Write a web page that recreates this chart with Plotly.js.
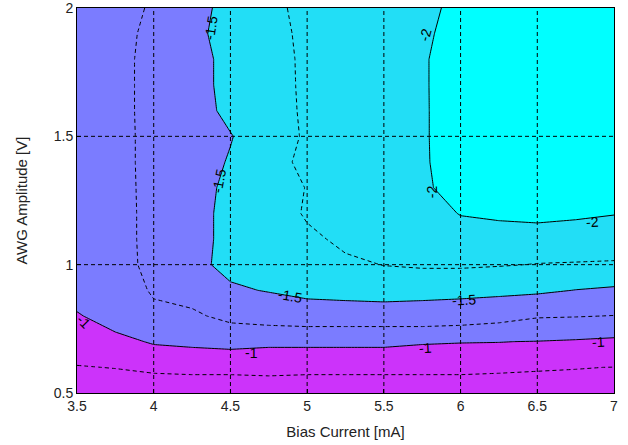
<!DOCTYPE html>
<html>
<head>
<meta charset="utf-8">
<script src="https://cdn.plot.ly/plotly-3.0.1.min.js"></script>
<style>html,body{margin:0;padding:0;background:#fff;}#chart{width:628px;height:445px;}</style>
</head>
<body>
<div id="chart"></div>
<script>
// Bias current axis (mA) and AWG amplitude axis (V)
const biasCurrent = [3.5, 3.75, 4.0, 4.25, 4.5, 4.75, 5.0, 5.25, 5.5, 5.75, 6.0, 6.25, 6.5, 6.75, 7.0];
const awgAmplitude = [0.5, 0.6, 0.7, 0.8, 0.9, 1.0, 1.1, 1.2, 1.3, 1.4, 1.5, 1.6, 1.7, 1.8, 1.9, 2.0];

// Filled / solid contour field: one column per bias current, values from 0.5 V to 2.0 V
const solidCols = [
  [-0.80,-0.86,-0.93,-0.99,-1.05,-1.10,-1.15,-1.18,-1.20,-1.22,-1.24,-1.25,-1.26,-1.27,-1.28,-1.28],
  [-0.82,-0.90,-0.97,-1.05,-1.12,-1.18,-1.22,-1.25,-1.27,-1.28,-1.29,-1.30,-1.30,-1.31,-1.31,-1.32],
  [-0.83,-0.92,-1.01,-1.10,-1.18,-1.24,-1.28,-1.30,-1.32,-1.33,-1.34,-1.35,-1.35,-1.36,-1.36,-1.36],
  [-0.84,-0.93,-1.02,-1.12,-1.30,-1.40,-1.41,-1.41,-1.41,-1.41,-1.41,-1.41,-1.41,-1.41,-1.41,-1.41],
  [-0.84,-0.93,-1.03,-1.20,-1.45,-1.60,-1.57,-1.57,-1.55,-1.515,-1.49,-1.55,-1.57,-1.57,-1.63,-1.58],
  [-0.85,-0.93,-1.02,-1.25,-1.52,-1.65,-1.68,-1.70,-1.70,-1.68,-1.62,-1.68,-1.70,-1.72,-1.73,-1.74],
  [-0.85,-0.93,-1.02,-1.30,-1.60,-1.72,-1.76,-1.80,-1.82,-1.82,-1.82,-1.83,-1.83,-1.84,-1.84,-1.84],
  [-0.85,-0.93,-1.02,-1.32,-1.62,-1.76,-1.82,-1.86,-1.88,-1.88,-1.89,-1.89,-1.90,-1.90,-1.90,-1.90],
  [-0.85,-0.93,-1.02,-1.33,-1.64,-1.78,-1.85,-1.89,-1.90,-1.91,-1.91,-1.91,-1.91,-1.91,-1.90,-1.89],
  [-0.84,-0.92,-1.01,-1.32,-1.62,-1.78,-1.86,-1.90,-1.95,-1.955,-1.955,-1.955,-1.955,-1.955,-1.93,-1.90],
  [-0.83,-0.91,-1.005,-1.30,-1.60,-1.78,-1.90,-2.01,-2.12,-2.18,-2.20,-2.20,-2.21,-2.21,-2.15,-2.10],
  [-0.83,-0.90,-1.003,-1.28,-1.57,-1.76,-1.90,-2.04,-2.15,-2.22,-2.25,-2.26,-2.26,-2.26,-2.26,-2.26],
  [-0.82,-0.90,-0.995,-1.26,-1.54,-1.75,-1.90,-2.06,-2.18,-2.25,-2.28,-2.29,-2.30,-2.30,-2.30,-2.30],
  [-0.81,-0.89,-0.98,-1.24,-1.495,-1.72,-1.88,-2.04,-2.16,-2.24,-2.27,-2.28,-2.29,-2.29,-2.29,-2.29],
  [-0.80,-0.88,-0.96,-1.22,-1.47,-1.68,-1.86,-2.01,-2.14,-2.22,-2.25,-2.26,-2.27,-2.27,-2.27,-2.27]
];

// Dashed contour field (second data set), same layout
const dashedCols = [
  [-0.93,-0.995,-1.06,-1.12,-1.17,-1.20,-1.22,-1.24,-1.25,-1.26,-1.27,-1.28,-1.29,-1.30,-1.30,-1.30],
  [-0.94,-1.003,-1.08,-1.16,-1.24,-1.33,-1.35,-1.35,-1.36,-1.37,-1.37,-1.38,-1.38,-1.38,-1.38,-1.37],
  [-0.95,-1.015,-1.20,-1.40,-1.55,-1.62,-1.62,-1.62,-1.62,-1.62,-1.62,-1.62,-1.62,-1.62,-1.59,-1.54],
  [-0.95,-1.02,-1.25,-1.45,-1.62,-1.70,-1.72,-1.73,-1.74,-1.74,-1.74,-1.74,-1.74,-1.74,-1.73,-1.72],
  [-0.95,-1.02,-1.28,-1.58,-1.72,-1.78,-1.80,-1.81,-1.82,-1.82,-1.82,-1.82,-1.82,-1.82,-1.82,-1.81],
  [-0.95,-1.025,-1.29,-1.62,-1.76,-1.82,-1.84,-1.85,-1.86,-1.86,-1.86,-1.86,-1.86,-1.86,-1.86,-1.86],
  [-0.95,-1.02,-1.30,-1.64,-1.80,-1.88,-1.95,-2.03,-2.01,-2.09,-2.035,-2.05,-2.06,-2.065,-2.09,-2.15],
  [-0.95,-1.02,-1.30,-1.64,-1.85,-1.96,-2.05,-2.10,-2.12,-2.13,-2.13,-2.14,-2.14,-2.14,-2.14,-2.15],
  [-0.95,-1.02,-1.30,-1.64,-1.87,-2.005,-2.10,-2.15,-2.17,-2.18,-2.18,-2.18,-2.18,-2.18,-2.18,-2.18],
  [-0.95,-1.02,-1.30,-1.64,-1.88,-2.02,-2.12,-2.18,-2.20,-2.20,-2.20,-2.20,-2.20,-2.20,-2.20,-2.20],
  [-0.95,-1.02,-1.29,-1.62,-1.88,-2.02,-2.12,-2.18,-2.20,-2.20,-2.20,-2.20,-2.20,-2.20,-2.20,-2.20],
  [-0.95,-1.015,-1.28,-1.58,-1.86,-2.01,-2.11,-2.17,-2.19,-2.20,-2.20,-2.20,-2.20,-2.20,-2.20,-2.20],
  [-0.945,-1.01,-1.25,-1.52,-1.82,-1.995,-2.10,-2.16,-2.18,-2.19,-2.19,-2.19,-2.19,-2.19,-2.19,-2.19],
  [-0.94,-1.005,-1.24,-1.51,-1.80,-1.99,-2.09,-2.15,-2.17,-2.18,-2.18,-2.18,-2.18,-2.18,-2.18,-2.18],
  [-0.935,-0.998,-1.23,-1.495,-1.72,-1.985,-2.08,-2.14,-2.16,-2.17,-2.17,-2.17,-2.17,-2.17,-2.17,-2.17]
];

// Contour levels and band colours (below -2, -2..-1.5, -1.5..-1, above -1)
const levels = [-2, -1.5, -1];
const bandColors = ['#00ffff', '#22def6', '#7b7cff', '#cc33fa'];

// Tick labels
const xTicks = [3.5, 4, 4.5, 5, 5.5, 6, 6.5, 7];
const xTickText = ['3.5', '4', '4.5', '5', '5.5', '6', '6.5', '7'];
const yTicks = [0.5, 1, 1.5, 2];
const yTickText = ['0.5', '1', '1.5', '2'];

// Inline contour labels: text, x, y, angle
const labelText  = ['-1.5', '-1.5', '-2', '-2', '-2', '-1.5', '-1.5', '-1', '-1', '-1', '-1'];
const labelX     = [4.373, 4.426, 5.77, 5.815, 6.86, 4.89, 6.02, 4.64, 5.77, 6.90, 3.545];
const labelY     = [1.922, 1.326, 1.895, 1.283, 1.166, 0.878, 0.862, 0.656, 0.675, 0.700, 0.775];
const labelAngle = [-81, -79, -75, -90, -3, 10, -3, 0, -3, -3, 45];

function transpose(cols) {
  const rows = [];
  for (let j = 0; j < cols[0].length; j++) {
    rows.push(cols.map(c => c[j]));
  }
  return rows;
}

const step = 0.5 / 3;
const colorscale = [
  [0, bandColors[0]], [step, bandColors[0]],
  [step, bandColors[1]], [3 * step, bandColors[1]],
  [3 * step, bandColors[2]], [5 * step, bandColors[2]],
  [5 * step, bandColors[3]], [1, bandColors[3]]
];

const filled = {
  type: 'contour',
  x: biasCurrent,
  y: awgAmplitude,
  z: transpose(solidCols),
  autocontour: false,
  contours: { start: levels[0], end: levels[levels.length - 1], size: 0.5, coloring: 'fill', showlines: true },
  colorscale: colorscale,
  showscale: false,
  line: { color: '#000', width: 1, smoothing: 0 },
  hoverinfo: 'skip'
};

const dashed = {
  type: 'contour',
  x: biasCurrent,
  y: awgAmplitude,
  z: transpose(dashedCols),
  autocontour: false,
  contours: { start: levels[0], end: levels[levels.length - 1], size: 0.5, coloring: 'none', showlines: true },
  showscale: false,
  line: { color: '#000', width: 1, dash: '4px,3px', smoothing: 0 },
  hoverinfo: 'skip'
};

const gridStyle = { color: '#000', width: 1, dash: '4px,3px' };
const shapes = [];
xTicks.slice(1, -1).forEach(v => shapes.push({ type: 'line', xref: 'x', yref: 'paper', x0: v, x1: v, y0: 0, y1: 1, line: gridStyle, layer: 'above' }));
yTicks.slice(1, -1).forEach(v => shapes.push({ type: 'line', xref: 'paper', yref: 'y', x0: 0, x1: 1, y0: v, y1: v, line: gridStyle, layer: 'above' }));

const annotations = labelText.map((t, i) => ({
  text: t, x: labelX[i], y: labelY[i], xref: 'x', yref: 'y',
  showarrow: false, textangle: labelAngle[i],
  font: { family: 'Liberation Sans, Arial, sans-serif', size: 14, color: '#000' }
}));

const tickFont = { family: 'Liberation Sans, Arial, sans-serif', size: 14, color: '#222' };
const titleFont = { family: 'Liberation Sans, Arial, sans-serif', size: 15, color: '#222' };

const layout = {
  width: 628, height: 445,
  margin: { l: 77, r: 14, t: 8, b: 52, pad: 0 },
  paper_bgcolor: '#fff', plot_bgcolor: '#fff',
  showlegend: false,
  font: tickFont,
  xaxis: {
    range: [3.5, 7], tickmode: 'array', tickvals: xTicks, ticktext: xTickText,
    showgrid: false, zeroline: false, showline: true, mirror: true,
    linecolor: '#000', linewidth: 1, ticks: 'inside', ticklen: 4, tickcolor: '#000',
    tickfont: tickFont, layer: 'above traces', ticklabeloverflow: 'allow',
    title: { text: 'Bias Current [mA]', font: titleFont, standoff: 13 }
  },
  yaxis: {
    range: [0.5, 2], tickmode: 'array', tickvals: yTicks, ticktext: yTickText,
    showgrid: false, zeroline: false, showline: true, mirror: true,
    linecolor: '#000', linewidth: 1, ticks: 'inside', ticklen: 4, tickcolor: '#000',
    tickfont: tickFont, layer: 'above traces', ticklabeloverflow: 'allow',
    title: { text: 'AWG Amplitude [V]', font: titleFont, standoff: 22 }
  },
  shapes: shapes,
  annotations: annotations
};

Plotly.newPlot('chart', [filled, dashed], layout, { displayModeBar: false, staticPlot: true });
</script>
</body>
</html>
